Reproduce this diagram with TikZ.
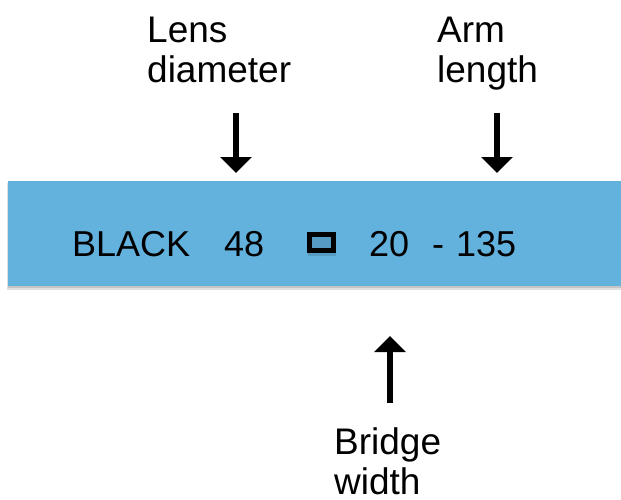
\documentclass[tikz,border=0pt]{standalone}
\usepackage{fontspec}
\setmainfont{Liberation Sans}
\usetikzlibrary{arrows.meta}
\definecolor{barblue}{RGB}{99,177,221}
\tikzset{
  lbl/.style={inner sep=0pt, anchor=base west, font=\fontsize{37}{40}\selectfont},
  code/.style={inner sep=0pt, anchor=base west, font=\fontsize{36}{40}\selectfont},
  pointer/.style={line width=5.5pt, -{Triangle[width=31pt,length=16pt]}},
  bar/.style={fill=barblue, draw=none},
  shade1/.style={fill=black, opacity=0.12, draw=none},
  sym/.style={draw=black, line width=5pt}
}
\begin{document}
\begin{tikzpicture}[x=1pt,y=-1pt]
\useasboundingbox (0,0) rectangle (621,500);
\fill[white] (0,0) rectangle (621,500);
\path[shade1] (7,183) rectangle (621,290);
\path[shade1] (8,183) rectangle (621,288);
\path[bar] (8,181) rectangle (621,286);
\node[code] (black) at (72,256) {BLACK};
\node[code] (d48) at (224,256) {48};
\path[shade1] (308,237) rectangle (336,256);
\path[sym] (309.5,234.5) rectangle (333.5,250.5);
\node[code] (d20) at (369,256) {20};
\node[code] (dash) at (432,256) {-};
\node[code] (d135) at (456,256) {135};
\node[lbl] (lens) at (147,43) {Lens};
\node[lbl] (diam) at (147,83) {diameter};
\node[lbl] (arm) at (437,43) {Arm};
\node[lbl] (len) at (437,83) {length};
\node[lbl] (bridge) at (334,454) {Bridge};
\node[lbl] (width) at (334,494) {width};
\coordinate (a1s) at (236,113);
\coordinate (a1e) at (236,173);
\coordinate (a2s) at (497,113);
\coordinate (a2e) at (497,173);
\coordinate (a3s) at (390,403);
\coordinate (a3e) at (390,336);
\draw[pointer] (a1s) -- (a1e);
\draw[pointer] (a2s) -- (a2e);
\draw[pointer] (a3s) -- (a3e);
\end{tikzpicture}
\end{document}
